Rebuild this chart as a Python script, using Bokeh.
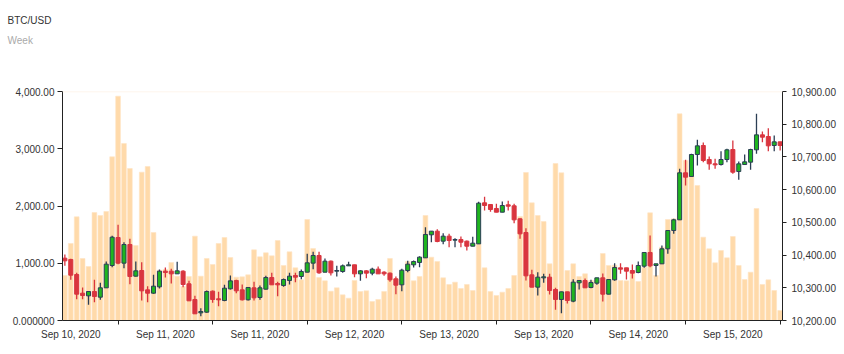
from bokeh.plotting import figure
from bokeh.models import (Range1d, LinearAxis, FixedTicker, NumeralTickFormatter,
                          ColumnDataSource, Title, Span)
from bokeh.embed import file_html
from bokeh.resources import INLINE

# ---- data (hourly candles, index 0..121) ----
opens = [
    10390.5, 10386.5, 10340.6, 10283.5, 10275.4, 10288.6, 10271.3, 10299.9, 10368.1, 10453.7,
    10375.3, 10432.3, 10335.5, 10352.8, 10293.7, 10283.5, 10302.9, 10350.8, 10350.8, 10342.6,
    10350.8, 10312.1, 10264.2, 10223.4, 10225.5, 10289.7, 10266.2, 10261.1, 10296.8, 10322.3,
    10293.7, 10263.2, 10299.9, 10270.3, 10295.8, 10331.4, 10313.1, 10307.0, 10322.3, 10337.6,
    10334.5, 10347.7, 10375.3, 10398.7, 10347.7, 10381.4, 10350.8, 10349.8, 10367.1, 10370.2,
    10342.6, 10351.8, 10344.7, 10356.9, 10347.7, 10344.7, 10327.4, 10309.0, 10352.8, 10370.2,
    10377.3, 10391.6, 10461.9, 10473.1, 10442.5, 10457.8, 10445.6, 10447.6, 10442.5, 10427.2,
    10434.3, 10559.7, 10554.6, 10542.4, 10531.1, 10553.6, 10550.5, 10510.8, 10469.0, 10339.6,
    10301.9, 10330.4, 10332.5, 10294.8, 10264.2, 10287.6, 10259.1, 10315.1, 10322.3, 10300.9,
    10314.1, 10330.4, 10280.5, 10324.3, 10361.0, 10361.0, 10352.8, 10346.7, 10366.1, 10407.9,
    10368.1, 10373.2, 10419.1, 10475.1, 10507.7, 10651.4, 10640.2, 10707.4, 10734.9, 10692.1,
    10678.9, 10676.8, 10692.1, 10722.7, 10655.4, 10676.8, 10684.0, 10721.7, 10767.5, 10762.4,
    10734.9, 10746.1]
closes = [
    10382.4, 10338.6, 10280.5, 10276.4, 10288.6, 10273.4, 10299.9, 10372.2, 10454.7, 10375.3,
    10432.3, 10334.5, 10351.8, 10290.7, 10283.5, 10304.9, 10350.8, 10346.7, 10342.6, 10351.8,
    10310.0, 10260.1, 10220.4, 10227.5, 10288.6, 10264.2, 10263.2, 10298.8, 10321.2, 10290.7,
    10263.2, 10300.9, 10269.3, 10299.9, 10331.4, 10309.0, 10309.0, 10325.3, 10335.5, 10332.5,
    10349.8, 10376.3, 10398.7, 10345.7, 10381.4, 10345.7, 10352.8, 10367.1, 10370.2, 10342.6,
    10351.8, 10344.7, 10356.9, 10342.6, 10342.6, 10324.3, 10308.0, 10353.9, 10372.2, 10380.3,
    10393.6, 10462.9, 10473.1, 10441.5, 10457.8, 10444.5, 10447.6, 10439.4, 10427.2, 10436.4,
    10558.7, 10551.5, 10539.3, 10531.1, 10551.5, 10549.5, 10507.7, 10464.9, 10336.5, 10301.9,
    10332.5, 10333.5, 10291.7, 10264.2, 10287.6, 10261.1, 10317.2, 10322.3, 10299.9, 10316.2,
    10330.4, 10280.5, 10325.3, 10362.0, 10356.9, 10350.8, 10344.7, 10368.1, 10407.9, 10367.1,
    10373.2, 10419.1, 10475.1, 10507.7, 10651.4, 10638.1, 10707.4, 10733.9, 10689.1, 10678.9,
    10675.8, 10692.1, 10721.7, 10653.4, 10678.9, 10685.0, 10722.7, 10767.5, 10760.4, 10733.9,
    10746.1, 10734.9]
highs = [
    10401.7, 10388.5, 10345.7, 10300.9, 10288.6, 10324.3, 10315.1, 10380.3, 10458.8, 10492.4,
    10439.4, 10449.6, 10380.3, 10378.3, 10304.9, 10339.6, 10355.9, 10362.0, 10357.9, 10379.3,
    10353.9, 10321.2, 10275.4, 10237.7, 10291.7, 10291.7, 10287.6, 10309.0, 10337.6, 10324.3,
    10310.0, 10301.9, 10318.2, 10307.0, 10336.5, 10345.7, 10318.2, 10328.4, 10345.7, 10345.7,
    10355.9, 10403.8, 10409.9, 10409.9, 10389.5, 10383.4, 10367.1, 10371.2, 10379.3, 10370.2,
    10353.9, 10353.9, 10361.0, 10365.1, 10350.8, 10346.7, 10334.5, 10357.9, 10382.4, 10383.4,
    10396.6, 10485.3, 10473.1, 10479.2, 10467.0, 10464.9, 10451.7, 10456.8, 10444.5, 10455.7,
    10562.7, 10578.0, 10554.6, 10556.6, 10563.7, 10565.8, 10556.6, 10512.8, 10482.2, 10354.9,
    10347.7, 10342.6, 10342.6, 10299.9, 10287.6, 10287.6, 10326.3, 10322.3, 10328.4, 10324.3,
    10330.4, 10343.7, 10325.3, 10375.3, 10375.3, 10361.0, 10371.2, 10380.3, 10407.9, 10459.8,
    10373.2, 10429.3, 10475.1, 10510.8, 10663.6, 10691.1, 10709.5, 10752.2, 10744.1, 10701.3,
    10694.2, 10717.6, 10724.7, 10750.2, 10686.0, 10707.4, 10724.7, 10831.7, 10777.7, 10787.9,
    10765.5, 10746.1]
lows = [
    10367.1, 10324.3, 10265.2, 10265.2, 10247.9, 10256.0, 10263.2, 10299.9, 10363.0, 10372.2,
    10360.0, 10311.1, 10334.5, 10261.1, 10256.0, 10281.5, 10297.8, 10331.4, 10313.1, 10342.6,
    10301.9, 10260.1, 10220.4, 10213.2, 10223.4, 10254.0, 10243.8, 10259.1, 10294.8, 10283.5,
    10261.1, 10261.1, 10261.1, 10263.2, 10294.8, 10309.0, 10274.4, 10302.9, 10310.0, 10317.2,
    10326.3, 10347.7, 10356.9, 10342.6, 10347.7, 10337.6, 10334.5, 10345.7, 10367.1, 10332.5,
    10321.2, 10329.4, 10338.6, 10342.6, 10336.5, 10318.2, 10280.5, 10289.7, 10347.7, 10362.0,
    10363.0, 10391.6, 10439.4, 10439.4, 10433.3, 10424.2, 10424.2, 10424.2, 10414.0, 10427.2,
    10434.3, 10536.2, 10532.2, 10531.1, 10531.1, 10536.2, 10497.5, 10449.6, 10322.3, 10301.9,
    10276.4, 10315.1, 10279.5, 10232.6, 10222.4, 10252.0, 10256.0, 10294.8, 10299.9, 10298.8,
    10309.0, 10258.1, 10280.5, 10321.2, 10342.6, 10325.3, 10328.4, 10344.7, 10361.0, 10363.0,
    10334.5, 10373.2, 10403.8, 10464.9, 10507.7, 10612.7, 10640.2, 10673.8, 10684.0, 10660.5,
    10663.6, 10673.8, 10684.0, 10648.3, 10630.0, 10676.8, 10660.5, 10709.5, 10745.1, 10717.6,
    10717.6, 10719.6]
volumes = [
    786, 1345, 1811, 1083, 943, 1886, 1834, 1904, 2859, 3918,
    3092, 2655, 1310, 2591, 2690, 1537, 879, 891, 1013, 774,
    594, 769, 1473, 774, 1083, 978, 1345, 1450, 1100, 757,
    763, 798, 1234, 1112, 1182, 1130, 1397, 961, 1199, 920,
    710, 1764, 1258, 751, 693, 512, 571, 448, 390, 699,
    507, 518, 332, 367, 507, 1083, 728, 827, 1031, 693,
    769, 1834, 1106, 1031, 745, 629, 670, 559, 629, 524,
    1339, 920, 507, 437, 495, 559, 786, 1817, 2585, 2055,
    1834, 1729, 990, 2742, 2579, 873, 990, 769, 815, 699,
    699, 1170, 961, 967, 699, 693, 856, 681, 932, 1881,
    786, 1281, 1764, 1776, 3610, 2795, 2521, 2358, 1456, 1252,
    1007, 1223, 1095, 1467, 961, 716, 844, 1956, 629, 710,
    524, 175]
tick_labels = ["Sep 10, 2020", "Sep 11, 2020", "Sep 11, 2020", "Sep 12, 2020",
               "Sep 13, 2020", "Sep 13, 2020", "Sep 14, 2020", "Sep 15, 2020"]
label_index = [1, 17, 33, 49, 65, 81, 97, 113]
tick_index = [9, 25, 41, 57, 73, 89, 105, 121]

n = len(opens)
idx = list(range(n))

UP_FILL = "#1fb51f"
UP_LINE = "#2b3e55"
DOWN = "#d9353f"

up = [c >= o for o, c in zip(opens, closes)]
src = ColumnDataSource(dict(
    x=idx, open=opens, close=closes, high=highs, low=lows, vol=volumes,
    top=[max(o, c) for o, c in zip(opens, closes)],
    bottom=[min(o, c) for o, c in zip(opens, closes)],
    fill=[UP_FILL if u else DOWN for u in up],
    line=[UP_LINE if u else DOWN for u in up],
))

FONT = "Liberation Sans"
TXT = "#333333"

p = figure(width=844, height=354, output_backend="svg", toolbar_location=None,
           x_range=Range1d(-0.4, 121.4), y_range=Range1d(0, 4000),
           min_border_left=62, min_border_right=62, min_border_top=91, min_border_bottom=34,
           background_fill_color="white", border_fill_color="white")
p.outline_line_color = None
p.xgrid.visible = False
p.ygrid.visible = False
p.extra_y_ranges = {"price": Range1d(10200, 10900)}

# titles: an empty spacer sits next to the frame, then "Week", then "BTC/USD"
p.add_layout(Title(text=" ", align="left", offset=-55, standoff=30.5,
                   text_font=FONT, text_font_size="10px", text_font_style="normal",
                   text_color="white"), "above")
p.add_layout(Title(text="Week", align="left", offset=-55, standoff=4,
                   text_font=FONT, text_font_size="10px", text_font_style="normal",
                   text_color="#aaaaaa"), "above")
p.title.text = "BTC/USD"
p.title.align = "left"
p.title.offset = -55
p.title.standoff = 8.6
p.title.text_font = FONT
p.title.text_font_size = "10px"
p.title.text_font_style = "normal"
p.title.text_color = TXT

# volume bars
p.vbar(x="x", top="vol", bottom=0, width=0.8, source=src,
       fill_color="#FFDAAA", line_color="#FFE4C4", line_width=0.6)
# wicks
p.segment(x0="x", y0="low", x1="x", y1="high", source=src, line_color="line",
          line_width=1.3, y_range_name="price")
# bodies
p.vbar(x="x", top="top", bottom="bottom", width=0.68, source=src,
       fill_color="fill", line_color="line", line_width=1, y_range_name="price")

p.add_layout(Span(location=4000, dimension="width", line_color="#fdf1e6", line_width=1.5))

# left axis
ya = p.yaxis[0]
ya.ticker = FixedTicker(ticks=[0, 1000, 2000, 3000, 4000])
ya.formatter = NumeralTickFormatter(format="0,0.00")
ya.major_label_overrides = {0: "0.000000"}
ya.minor_tick_line_color = None
ya.major_tick_out = 5
ya.major_tick_in = 0
ya.major_label_standoff = 3

# right axis
ra = LinearAxis(y_range_name="price",
                ticker=FixedTicker(ticks=list(range(10200, 10901, 100))),
                formatter=NumeralTickFormatter(format="0,0.00"))
ra.minor_tick_line_color = None
ra.major_tick_out = 4
ra.major_tick_in = 0
ra.major_label_standoff = 5
p.add_layout(ra, "right")

# bottom axis
xa = p.xaxis[0]
xa.ticker = FixedTicker(ticks=label_index, minor_ticks=tick_index)
xa.major_label_overrides = {i: t for i, t in zip(label_index, tick_labels)}
xa.major_tick_out = 0
xa.major_tick_in = 0
xa.minor_tick_out = 4
xa.minor_tick_in = 0
xa.major_label_standoff = 4

for ax in (ya, ra, xa):
    ax.axis_line_color = "#222222"
    ax.major_tick_line_color = "#222222"
    ax.major_label_text_font = FONT
    ax.major_label_text_font_size = "10px"
    ax.major_label_text_color = TXT
xa.minor_tick_line_color = "#222222"

open("out.html", "w").write(file_html(p, INLINE))
